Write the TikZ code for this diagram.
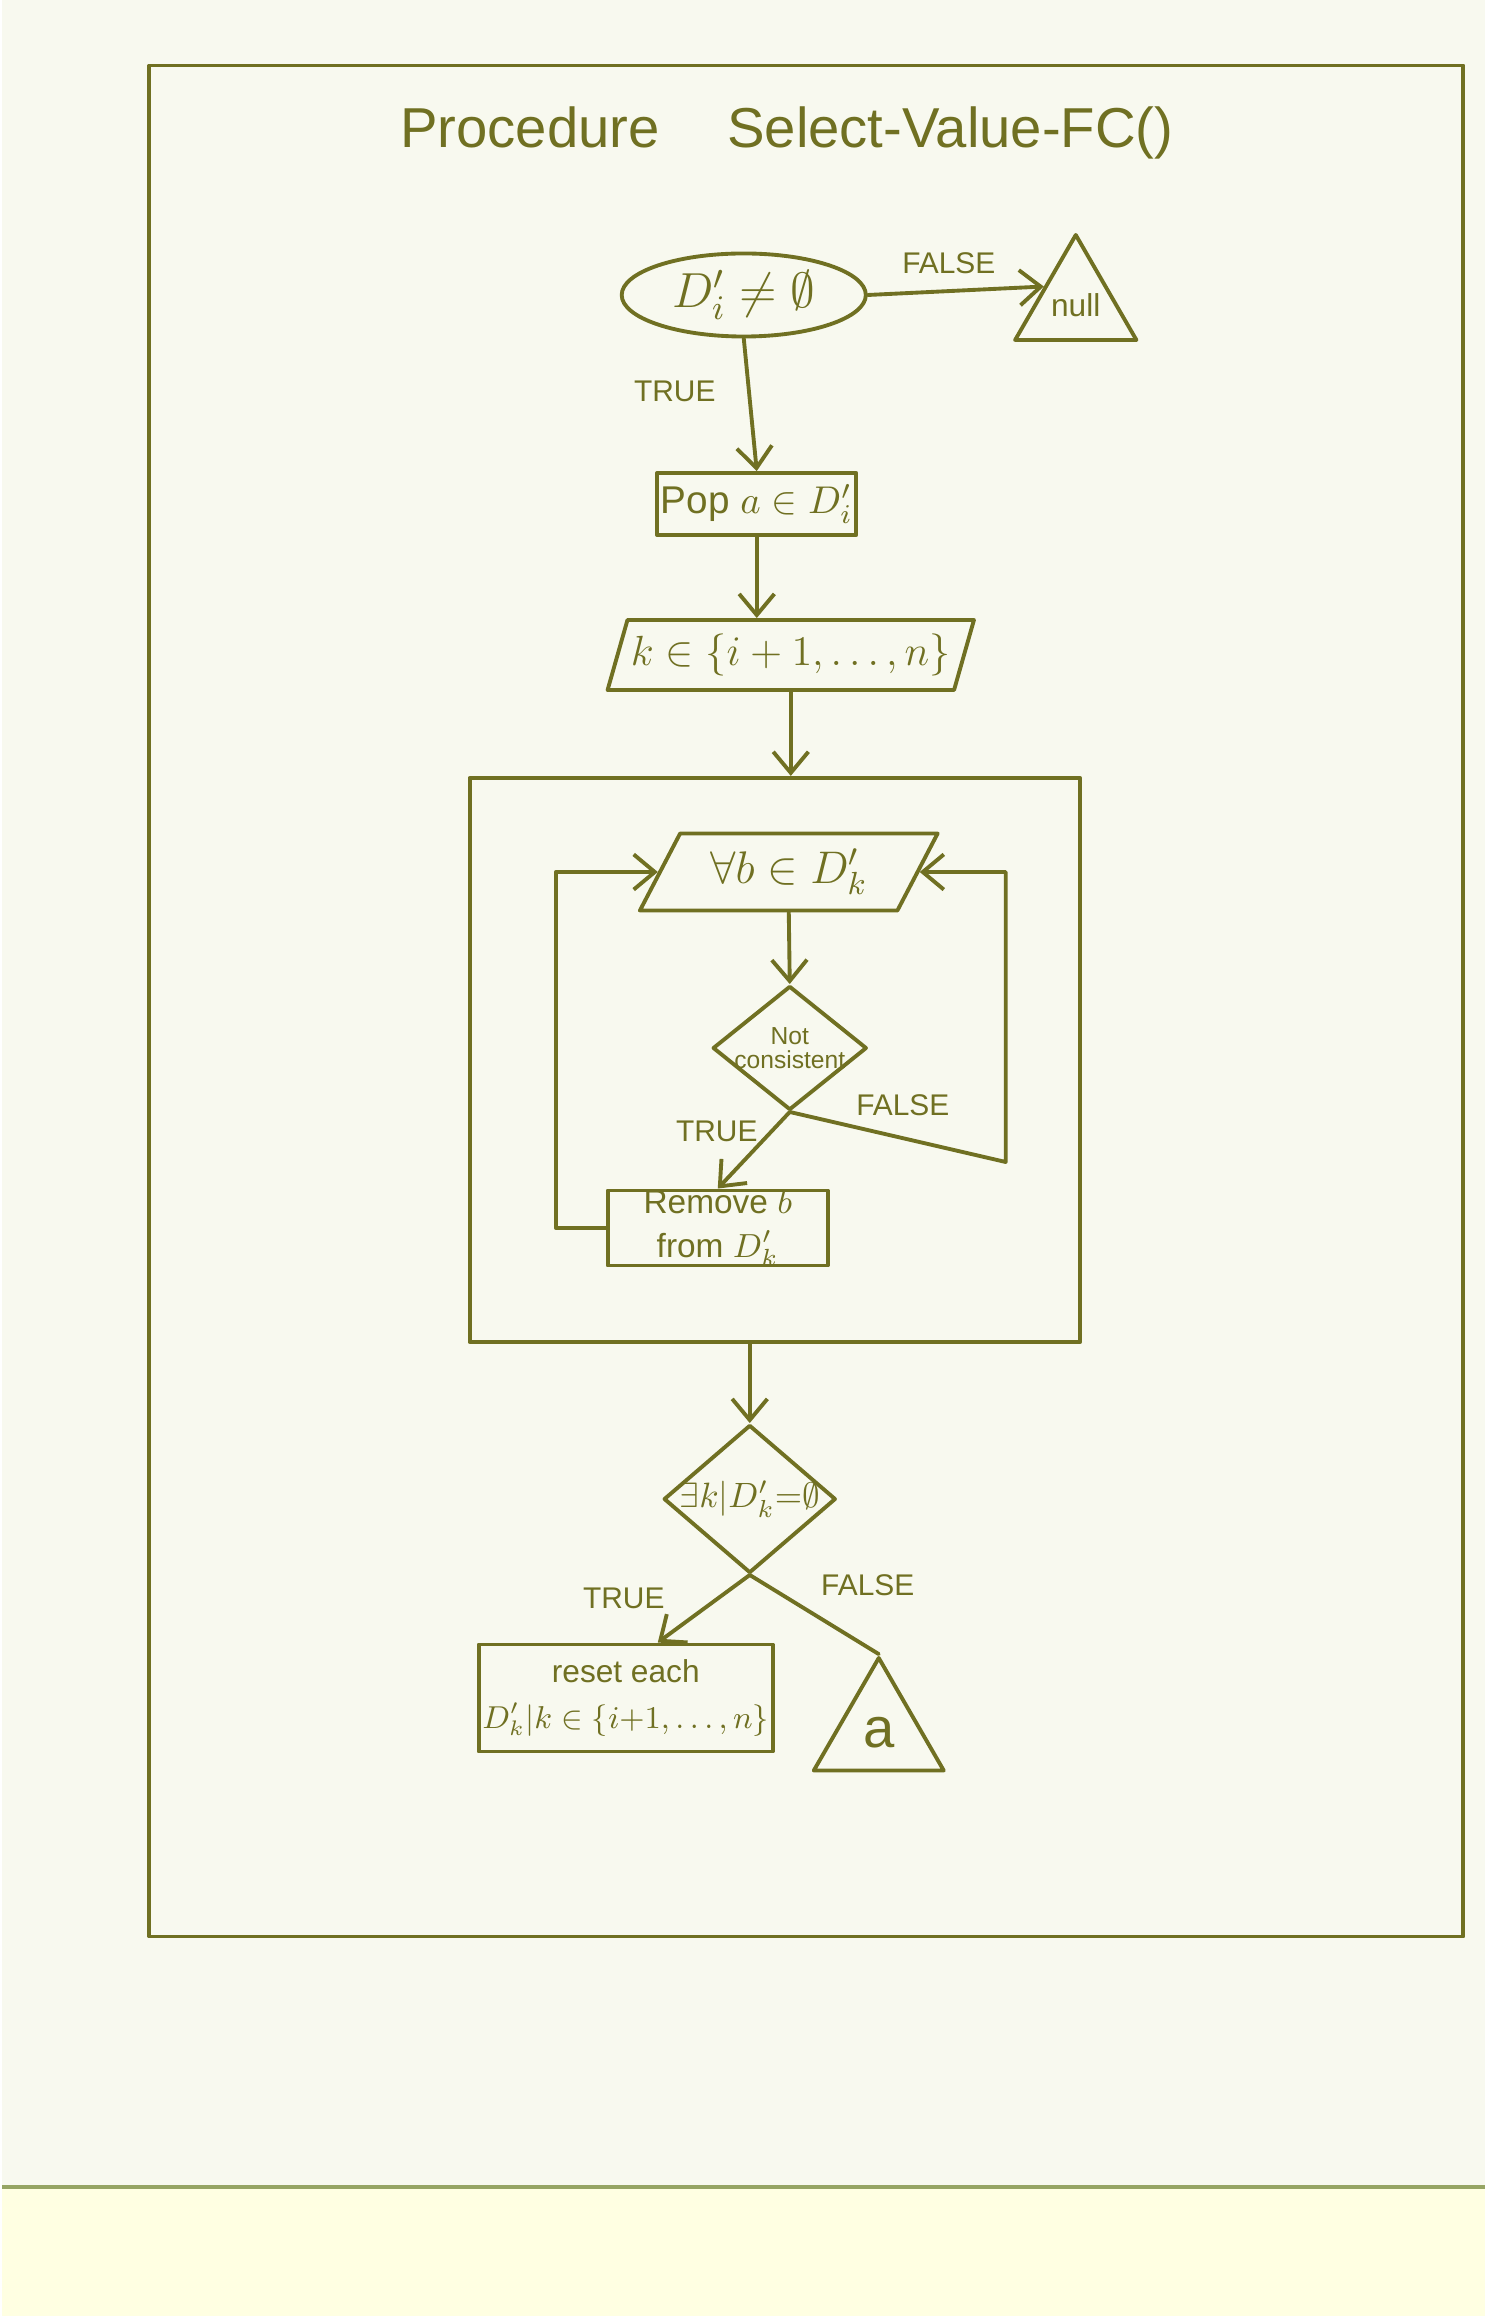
\documentclass[tikz,border=0pt]{standalone}
\usepackage{fix-cm}
\usepackage{fontspec}
\setmainfont{Liberation Sans}
\usetikzlibrary{shapes.geometric,arrows.meta}

\definecolor{paper}{RGB}{248,249,239}
\definecolor{paperlow}{RGB}{255,255,226}
\definecolor{ink}{RGB}{112,112,34}
\definecolor{sheetedge}{RGB}{150,165,100}

\newcommand{\fs}[1]{\fontsize{#1}{#1}\selectfont}

\begin{document}
\begin{tikzpicture}[x=0.01cm,y=-0.01cm,
  every node/.style={text=ink},
  line/.style={draw=ink, line width=1.1pt, line join=round, line cap=round},
  arrow/.style={line, -{Straight Barb[length=6pt,width=10pt]}},
  box/.style={line, rectangle, inner sep=1pt, align=center},
  slanted/.style={line, trapezium, trapezium stretches, inner sep=1pt},
  decision/.style={line, diamond, inner sep=0pt, align=center},
  stop/.style={line, regular polygon, regular polygon sides=3, inner sep=0pt},
  lbl/.style={font=\fs{8.5}, inner sep=0pt}
]
% sheet of paper and the strip below it
\fill[paper] (0,0) rectangle (1483,2187);
\fill[paperlow] (0,2187) rectangle (1483,2316);
\draw[sheetedge, line width=1pt] (0,2187) -- (1483,2187);
\useasboundingbox (0,0) rectangle (1483,2316);

% outer frame
\node[box, minimum width=13.13cm, minimum height=18.70cm] (frame) at (804.5,1001) {};

% title
\node[font=\fs{16}] (title) at (785,133) {Procedure\hspace{1.2em}Select-Value-FC()};

% start test and the null exit
\node[line, ellipse, minimum width=2.44cm, minimum height=0.83cm, inner sep=0pt, font=\fs{14}] (cond) at (742,295) {$D'_i \neq \emptyset$};
\node[stop, minimum size=1.40cm, font=\fs{9}] (null) at (1074,305) {null};

% pop and range of k
\node[box, minimum width=1.67cm, minimum height=0.62cm, font=\fs{11}] (pop) at (755,504) {Pop $a \in D'_i$};
\node[slanted, trapezium left angle=68, trapezium right angle=112, minimum width=3.45cm, minimum height=0.70cm, font=\fs{12}] (kset) at (789,655) {$k \in \{i+1, \ldots, n\}$};

% loop body
\node[box, minimum width=6.10cm, minimum height=5.64cm] (loop) at (773,1060) {};
\node[slanted, trapezium left angle=60, trapezium right angle=120, minimum width=2.98cm, minimum height=0.77cm, font=\fs{13}] (forall) at (787,872) {$\forall b \in D'_k$};
\node[decision, minimum width=1.54cm, minimum height=1.24cm, font=\fs{7}] (notcons) at (788,1048) {Not\\\makebox[0pt]{consistent}};
\node[box, minimum width=2.20cm, minimum height=0.75cm, inner sep=0pt, font=\fontsize{9.5}{12.5}\selectfont] (remove) at (716,1228) {Remove $b$\\from $D'_k$};

% final test
\node[decision, minimum width=1.72cm, minimum height=1.48cm, font=\fs{10}] (exists) at (748,1499) {\makebox[0pt]{$\exists k|D'_k{=}\emptyset$}};
\node[box, minimum width=2.44cm, minimum height=1.07cm, font=\fontsize{9}{13}\selectfont] (reset) at (624,1698) {reset each\\$D'_k|k \in \{i{+}1,\ldots,n\}$};
\node[stop, minimum size=1.50cm, font=\fs{16}] (a) at (877,1733) {a};

% free corners of the loop lines
\coordinate (lleft) at (554,1000);
\coordinate (rfalse) at (1004,1162);

% connectors
\draw[arrow] (cond.east) -- (null.side 1);
\draw[arrow] (cond.south) -- (pop.north);
\draw[arrow] (pop.south) -- (pop.south |- kset.north);
\draw[arrow] (kset.south) -- (kset.south |- loop.north);
\draw[arrow] (forall.south) -- (notcons.north);
\draw[arrow] (notcons.south) -- (remove.north);
\draw[arrow] (notcons.south) -- (rfalse) |- (forall.east);
\draw[arrow] (remove.west) -| (lleft) |- (forall.west);
\draw[arrow] (exists.north |- loop.south) -- (exists.north);
\draw[arrow] (exists.south) -- (reset.60);
\draw[line] (exists.south) -- (a.north);

% branch labels
\node[lbl] (fnull) at (947,263) {FALSE};
\node[lbl] (tpop) at (673,391) {TRUE};
\node[lbl] (tremove) at (715,1131) {TRUE};
\node[lbl] (fcons) at (901,1105) {FALSE};
\node[lbl] (treset) at (622,1598) {TRUE};
\node[lbl] (fa) at (866,1585) {FALSE};
\end{tikzpicture}
\end{document}
